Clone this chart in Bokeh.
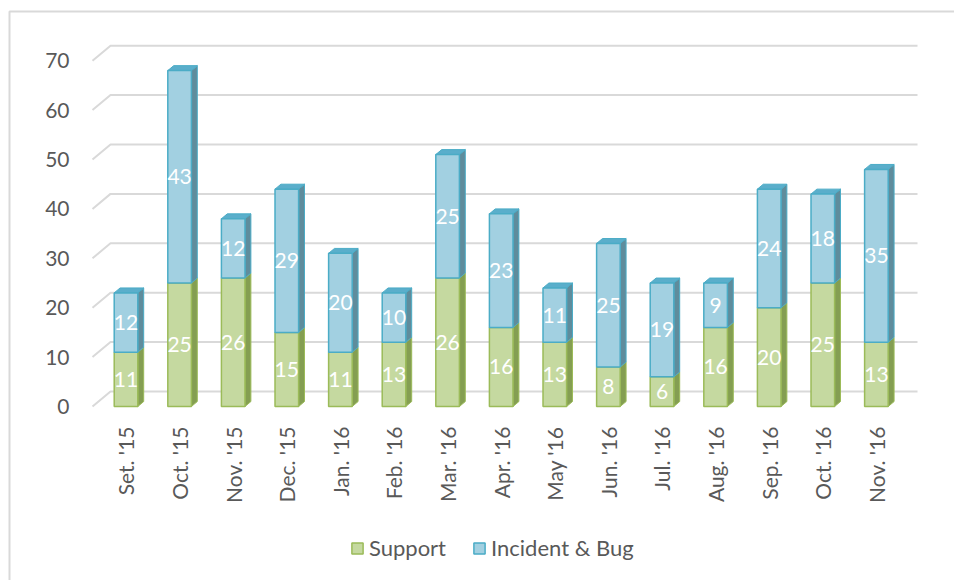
import numpy as np
from bokeh.plotting import figure
from bokeh.models import FixedTicker, Legend, LegendItem, Range1d
from bokeh.core.properties import value
from bokeh.embed import file_html
from bokeh.resources import INLINE

# ---- data -------------------------------------------------------------
months = ["Set. '15", "Oct. '15", "Nov. '15", "Dec. '15", "Jan. '16",
          "Feb. '16", "Mar. '16", "Apr. '16", "May '16", "Jun. '16",
          "Jul. '16", "Aug. '16", "Sep. '16", "Oct. '16", "Nov. '16"]
support = [11, 25, 26, 15, 11, 13, 26, 16, 13, 8, 6, 16, 20, 25, 13]
incident = [12, 43, 12, 29, 20, 10, 25, 23, 11, 25, 19, 9, 24, 18, 35]
y_ticks = [0, 10, 20, 30, 40, 50, 60, 70]
series_names = ["Support", "Incident & Bug"]

# ---- style ------------------------------------------------------------
FONT = "Lato"
FS = "21px"
FS_LEG = "22px"
TXT = "#595959"
GRID = "#d9d9d9"
G_FRONT, G_LINE, G_SIDE = "#c5d9a0", "#9bbb59", "#849e52"
B_FRONT, B_LINE, B_SIDE, B_TOP = "#a2d0e1", "#4bacc6", "#5f8c9c", "#5aaecb"
WIDTH, HEIGHT = 954, 580
PX_X, PX_Y = 53.6, 4.94          # pixels per category / per unit
X0_PX, Y0_PX = 125.5, 406.0      # where category 0 / value 0 sit
W = 0.44                          # bar width (category units)
BDX, BDY = 0.11, 1.0              # bar depth
GDX, GDY = 0.336, 3.04            # wall depth
GX0, GX1 = -0.625, 14.767         # gridline extent
AXIS_Y = -0.81

xs = -X0_PX / PX_X
xe = xs + WIDTH / PX_X
ye = Y0_PX / PX_Y
ys = ye - HEIGHT / PX_Y

x = np.arange(len(months), dtype=float)
sup = np.array(support, dtype=float)
inc = np.array(incident, dtype=float)
tot = sup + inc

p = figure(width=WIDTH, height=HEIGHT,
           x_range=Range1d(xs, xe), y_range=Range1d(ys, ye),
           output_backend="svg", toolbar_location=None,
           min_border_left=0, min_border_right=0,
           min_border_top=0, min_border_bottom=0)
p.outline_line_color = None
p.xgrid.visible = False
p.ygrid.visible = False

# chart-area border (top and left edges)
bx = xs + 9 / PX_X
by = ye - 11 / PX_Y
p.line(x=[bx, bx, xe], y=[ys, by, by], line_color=GRID, line_width=2)

# gridlines (front diagonal + back wall)
p.multi_line(xs=[[GX0, GX0 + GDX, GX1] for t in y_ticks],
             ys=[[t, t + GDY, t + GDY] for t in y_ticks],
             line_color=GRID, line_width=2)

xl = x - W / 2
xr = x + W / 2
# side faces
p.patches(xs=[[a, a + BDX, a + BDX, a] for a in xr],
          ys=[[0, BDY, s + BDY, s] for s in sup],
          fill_color=G_SIDE, line_color=G_LINE, line_width=1)
p.patches(xs=[[a, a + BDX, a + BDX, a] for a in xr],
          ys=[[s, s + BDY, t + BDY, t] for s, t in zip(sup, tot)],
          fill_color=B_SIDE, line_color=B_LINE, line_width=1)
# top faces
p.patches(xs=[[a, a + BDX, b + BDX, b] for a, b in zip(xl, xr)],
          ys=[[t, t + BDY, t + BDY, t] for t in tot],
          fill_color=B_TOP, line_color=B_LINE, line_width=1)
# front faces
g_front = p.vbar(x=x, bottom=0, top=sup, width=W, fill_color=G_FRONT,
                 line_color=G_LINE, line_width=1.5)
b_front = p.vbar(x=x, bottom=sup, top=tot, width=W, fill_color=B_FRONT,
                 line_color=B_LINE, line_width=1.5)

# value labels
p.text(x=x, y=sup / 2, text=[str(v) for v in support],
       text_align="center", text_baseline="middle", text_color="white",
       text_font=value(FONT), text_font_size=FS)
p.text(x=x, y=sup + inc / 2, text=[str(v) for v in incident],
       text_align="center", text_baseline="middle", text_color="white",
       text_font=value(FONT), text_font_size=FS)

# axes
p.yaxis.fixed_location = GX0
p.yaxis.ticker = FixedTicker(ticks=y_ticks)
p.yaxis.axis_line_color = None
p.yaxis.major_tick_line_color = None
p.yaxis.minor_tick_line_color = None
p.yaxis.major_label_standoff = 17
p.yaxis.major_label_text_font = FONT
p.yaxis.major_label_text_font_size = FS
p.yaxis.major_label_text_color = TXT

p.xaxis.fixed_location = AXIS_Y
p.xaxis.ticker = FixedTicker(ticks=list(range(len(months))))
p.xaxis.major_label_overrides = {i: m for i, m in enumerate(months)}
p.xaxis.major_label_orientation = np.pi / 2
p.xaxis.axis_line_color = None
p.xaxis.major_tick_line_color = None
p.xaxis.minor_tick_line_color = None
p.xaxis.major_label_standoff = 10
p.xaxis.major_label_text_font = FONT
p.xaxis.major_label_text_font_size = FS
p.xaxis.major_label_text_color = TXT

legend = Legend(items=[LegendItem(label=series_names[0], renderers=[g_front]),
                       LegendItem(label=series_names[1], renderers=[b_front])],
                orientation="horizontal", location=(350, 19),
                border_line_color=None, background_fill_alpha=0,
                label_text_font=FONT, label_text_font_size=FS_LEG,
                label_text_color=TXT, glyph_width=14, glyph_height=14,
                label_standoff=5, spacing=26, padding=0, margin=0)
p.add_layout(legend)

open("out.html", "w").write(file_html(p, INLINE))
